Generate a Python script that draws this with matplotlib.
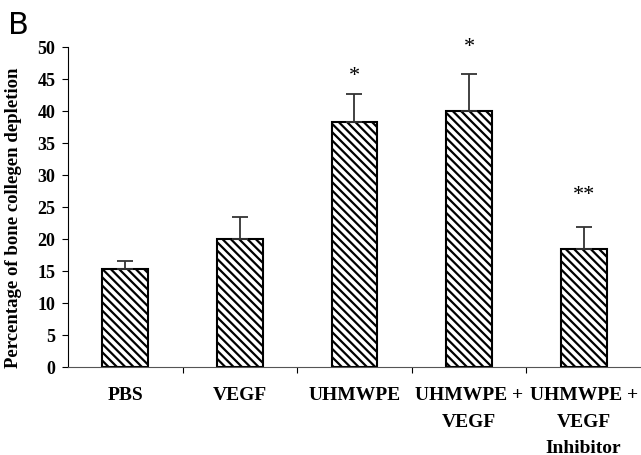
import numpy as np
import matplotlib.pyplot as plt

plt.rcParams['hatch.linewidth'] = 1.6

groups = ['PBS', 'VEGF', 'UHMWPE', 'UHMWPE +\nVEGF', 'UHMWPE +\nVEGF\nInhibitor']
depletion = [15.3, 20.0, 38.3, 40.0, 18.5]
err_up = [1.2, 3.4, 4.4, 5.8, 3.3]
marks = ['', '', '*', '*', '**']
mark_y = [0, 0, 45.5, 50.0, 27.0]

fig = plt.figure(figsize=(6.41, 4.56), dpi=100)
ax = fig.add_axes([0.106, 0.193, 0.894, 0.702])

x = np.arange(len(groups))
ax.bar(x, depletion, width=0.4, color='white', edgecolor='black',
       hatch='\\\\\\\\', linewidth=1.5)
ax.errorbar(x, depletion, yerr=[np.zeros(len(x)), err_up], fmt='none',
            ecolor='#333333', elinewidth=1.3, capsize=6, capthick=1.3)
for xi, m, my in zip(x, marks, mark_y):
    if m:
        ax.text(xi, my, m, ha='center', va='center', fontsize=16,
                family='Liberation Serif')

ax.set_xlim(-0.5, 4.5)
ax.set_ylim(0, 50)
ax.set_yticks(range(0, 51, 5))
ax.set_yticklabels([str(v) for v in range(0, 51, 5)],
                   family='Liberation Serif', fontweight='bold', fontsize=13)
ax.set_xticks(x)
ax.set_xticklabels(groups, family='Liberation Serif', fontweight='bold',
                   fontsize=14, linespacing=1.72)
ax.tick_params(axis='x', length=0, pad=14)
ax.set_xticks(np.arange(0.5, 4.5, 1), minor=True)
ax.tick_params(axis='x', which='minor', length=4, width=0.8, direction='out')
ax.tick_params(axis='y', length=4, width=0.8, direction='out', pad=5)
ax.set_ylabel('Percentage of bone collegen depletion', family='Liberation Serif',
              fontweight='bold', fontsize=13.5)
ax.yaxis.set_label_coords(-0.08, 0.47)
for s in ['top', 'right']:
    ax.spines[s].set_visible(False)
ax.spines['left'].set_linewidth(0.8)
ax.spines['bottom'].set_linewidth(0.8)
ax.spines['bottom'].set_color('#555555')

fig.text(0.012, 0.925, 'B', fontsize=22, family='DejaVu Sans')

fig.savefig('out.png', dpi=100)
